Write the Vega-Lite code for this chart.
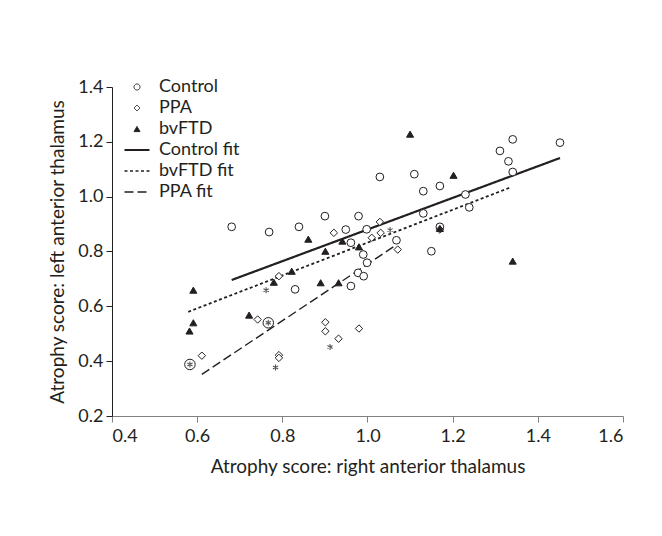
{
  "$schema": "https://vega.github.io/schema/vega-lite/v6.json",
  "width": 511,
  "height": 329,
  "autosize": "none",
  "padding": {"left": 112, "top": 87, "right": 39, "bottom": 120},
  "background": "white",
  "config": {
    "view": {"stroke": null},
    "font": "Lato",
    "axis": {
      "grid": false,
      "labelFont": "Lato",
      "labelFontSize": 18,
      "labelColor": "#231f20",
      "titleFont": "Lato",
      "titleFontSize": 19,
      "titleFontWeight": "normal",
      "titleColor": "#231f20",
      "tickSize": 6,
      "labelPadding": 3,
      "format": ".1f"
    },
    "legend": {
      "labelFont": "Lato",
      "labelFontSize": 18,
      "labelColor": "#231f20"
    }
  },
  "data": {
    "values": [
      {"g": "Control", "x": 0.681, "y": 0.890},
      {"g": "Control", "x": 0.769, "y": 0.871},
      {"g": "Control", "x": 0.839, "y": 0.890},
      {"g": "Control", "x": 0.900, "y": 0.929},
      {"g": "Control", "x": 0.979, "y": 0.929},
      {"g": "Control", "x": 0.830, "y": 0.662},
      {"g": "Control", "x": 0.949, "y": 0.880},
      {"g": "Control", "x": 0.998, "y": 0.881},
      {"g": "Control", "x": 0.961, "y": 0.832},
      {"g": "Control", "x": 0.990, "y": 0.789},
      {"g": "Control", "x": 0.999, "y": 0.759},
      {"g": "Control", "x": 0.978, "y": 0.722},
      {"g": "Control", "x": 0.991, "y": 0.710},
      {"g": "Control", "x": 0.961, "y": 0.674},
      {"g": "Control", "x": 1.029, "y": 1.072},
      {"g": "Control", "x": 1.068, "y": 0.841},
      {"g": "Control", "x": 1.110, "y": 1.082},
      {"g": "Control", "x": 1.131, "y": 1.020},
      {"g": "Control", "x": 1.131, "y": 0.939},
      {"g": "Control", "x": 1.150, "y": 0.801},
      {"g": "Control", "x": 1.170, "y": 1.039},
      {"g": "Control", "x": 1.230, "y": 1.008},
      {"g": "Control", "x": 1.239, "y": 0.961},
      {"g": "Control", "x": 1.311, "y": 1.167},
      {"g": "Control", "x": 1.341, "y": 1.209},
      {"g": "Control", "x": 1.331, "y": 1.129},
      {"g": "Control", "x": 1.341, "y": 1.090},
      {"g": "Control", "x": 1.452, "y": 1.197},
      {"g": "Control", "x": 1.170, "y": 0.890},
      {"g": "PPA", "x": 0.611, "y": 0.420},
      {"g": "PPA", "x": 0.742, "y": 0.552},
      {"g": "PPA", "x": 0.792, "y": 0.710},
      {"g": "PPA", "x": 0.792, "y": 0.422},
      {"g": "PPA", "x": 0.792, "y": 0.412},
      {"g": "PPA", "x": 0.901, "y": 0.542},
      {"g": "PPA", "x": 0.901, "y": 0.509},
      {"g": "PPA", "x": 0.932, "y": 0.482},
      {"g": "PPA", "x": 0.980, "y": 0.519},
      {"g": "PPA", "x": 0.921, "y": 0.868},
      {"g": "PPA", "x": 1.029, "y": 0.908},
      {"g": "PPA", "x": 1.031, "y": 0.868},
      {"g": "PPA", "x": 1.010, "y": 0.850},
      {"g": "PPA", "x": 1.071, "y": 0.807},
      {"g": "PPA", "x": 1.170, "y": 0.880},
      {"g": "bvFTD", "x": 0.591, "y": 0.659},
      {"g": "bvFTD", "x": 0.591, "y": 0.540},
      {"g": "bvFTD", "x": 0.582, "y": 0.510},
      {"g": "bvFTD", "x": 0.722, "y": 0.568},
      {"g": "bvFTD", "x": 0.780, "y": 0.688},
      {"g": "bvFTD", "x": 0.822, "y": 0.728},
      {"g": "bvFTD", "x": 0.861, "y": 0.845},
      {"g": "bvFTD", "x": 0.890, "y": 0.686},
      {"g": "bvFTD", "x": 0.901, "y": 0.801},
      {"g": "bvFTD", "x": 0.932, "y": 0.686},
      {"g": "bvFTD", "x": 0.941, "y": 0.838},
      {"g": "bvFTD", "x": 0.980, "y": 0.817},
      {"g": "bvFTD", "x": 1.100, "y": 1.228},
      {"g": "bvFTD", "x": 1.202, "y": 1.078},
      {"g": "bvFTD", "x": 1.341, "y": 0.765},
      {"g": "bvFTD", "x": 1.170, "y": 0.884},
      {"g": "ring", "x": 0.583, "y": 0.388},
      {"g": "ring", "x": 0.767, "y": 0.540},
      {"g": "star", "x": 0.583, "y": 0.388},
      {"g": "star", "x": 0.767, "y": 0.540},
      {"g": "star", "x": 0.762, "y": 0.659},
      {"g": "star", "x": 0.912, "y": 0.452},
      {"g": "star", "x": 1.053, "y": 0.878},
      {"g": "star", "x": 0.784, "y": 0.377},
      {"g": "Control fit", "x": 0.681, "y": 0.696},
      {"g": "Control fit", "x": 1.452, "y": 1.141},
      {"g": "bvFTD fit", "x": 0.579, "y": 0.580},
      {"g": "bvFTD fit", "x": 1.333, "y": 1.032},
      {"g": "PPA fit", "x": 0.611, "y": 0.352},
      {"g": "PPA fit", "x": 1.061, "y": 0.817}
    ]
  },
  "encoding": {
    "x": {
      "field": "x", "type": "quantitative",
      "scale": {"domain": [0.4, 1.6], "nice": false, "zero": false},
      "axis": {
        "title": "Atrophy score: right anterior thalamus",
        "values": [0.4, 0.6, 0.8, 1.0, 1.2, 1.4, 1.6],
        "domainColor": "#808080", "tickColor": "#808080",
        "labelPadding": 5,
        "titlePadding": 12
      }
    },
    "y": {
      "field": "y", "type": "quantitative",
      "scale": {"domain": [0.2, 1.4], "nice": false, "zero": false},
      "axis": {
        "title": "Atrophy score: left anterior thalamus",
        "values": [0.2, 0.4, 0.6, 0.8, 1.0, 1.2, 1.4],
        "domainColor": "#231f20", "tickColor": "#231f20",
        "titlePadding": 10
      }
    }
  },
  "layer": [
    {
      "transform": [{"filter": "indexof(['Control fit','bvFTD fit','PPA fit'], datum.g) >= 0"}],
      "mark": {"type": "line", "color": "#231f20"},
      "encoding": {
        "strokeDash": {
          "field": "g", "type": "nominal",
          "scale": {
            "domain": ["Control", "PPA", "bvFTD", "Control fit", "bvFTD fit", "PPA fit"],
            "range": [[1, 0], [1, 0], [1, 0], [1, 0], [3, 2.5], [9, 4]]
          },
          "legend": {
            "title": null,
            "orient": "none",
            "legendX": 16,
            "legendY": -9,
            "padding": 0,
            "rowPadding": 3,
            "labelOffset": 13,
            "symbolStrokeColor": "#231f20",
            "encode": {
              "symbols": {
                "update": {
                  "size": {"signal": "indexof(['Control fit','bvFTD fit','PPA fit'], datum.value) >= 0 ? 625 : 36"},
                  "strokeWidth": {"signal": "datum.value == 'Control fit' ? 2.2 : (indexof(['bvFTD fit','PPA fit'], datum.value) >= 0 ? 1.4 : 1)"},
                  "stroke": {"value": "#231f20"}
                }
              }
            }
          }
        },
        "strokeWidth": {
          "field": "g", "type": "nominal",
          "scale": {"domain": ["Control fit", "bvFTD fit", "PPA fit"], "range": [2.2, 1.4, 1.5]},
          "legend": null
        }
      }
    },
    {
      "transform": [{"filter": "datum.g == 'ring'"}],
      "mark": {"type": "point", "shape": "circle", "size": 110, "stroke": "#231f20", "strokeWidth": 1, "fill": "white", "opacity": 1}
    },
    {
      "transform": [{"filter": "datum.g == 'star'"}],
      "mark": {"type": "point", "shape": "M0,-1L0,1M-0.87,-0.5L0.87,0.5M-0.87,0.5L0.87,-0.5", "size": 36, "stroke": "#555555", "strokeWidth": 1.1, "fill": null, "filled": false, "opacity": 1}
    },
    {
      "transform": [{"filter": "indexof(['Control','PPA','bvFTD'], datum.g) >= 0"}],
      "mark": {"type": "point", "stroke": "#231f20", "strokeWidth": 1, "opacity": 1, "filled": true},
      "encoding": {
        "shape": {
          "field": "g", "type": "nominal",
          "scale": {
            "domain": ["Control", "PPA", "bvFTD", "Control fit", "bvFTD fit", "PPA fit"],
            "range": ["circle", "diamond", "triangle-up", "M-1,0H1", "M-1,0H1", "M-1,0H1"]
          }
        },
        "fill": {
          "field": "g", "type": "nominal",
          "scale": {
            "domain": ["Control", "PPA", "bvFTD", "Control fit", "bvFTD fit", "PPA fit"],
            "range": ["white", "white", "#231f20", "transparent", "transparent", "transparent"]
          }
        },
        "size": {
          "field": "g", "type": "nominal",
          "scale": {"domain": ["Control", "PPA", "bvFTD"], "range": [60, 50, 80]},
          "legend": null
        }
      }
    }
  ]
}
